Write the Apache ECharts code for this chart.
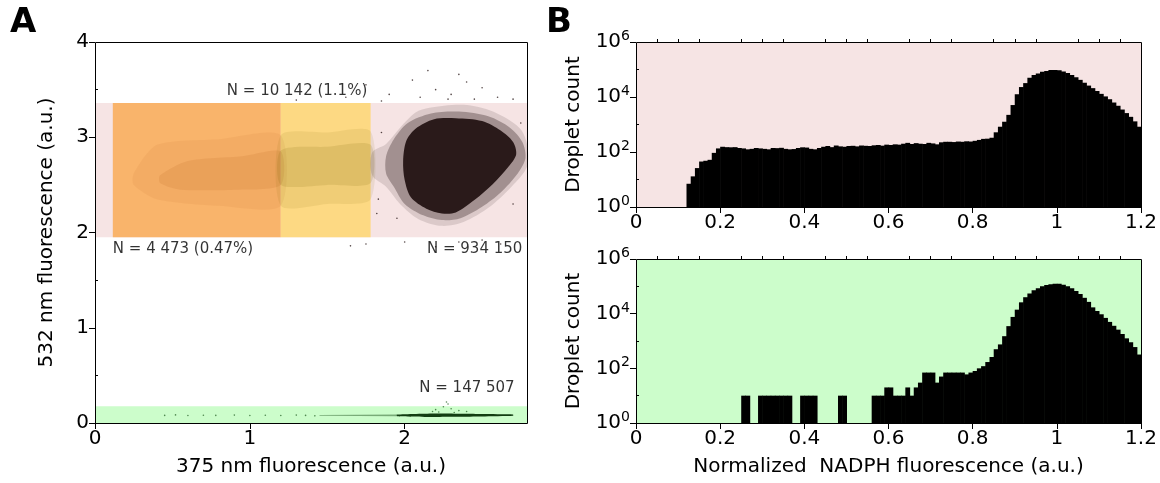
<!DOCTYPE html>
<html><head><meta charset="utf-8">
<script src="https://cdn.jsdelivr.net/npm/echarts@6/dist/echarts.min.js"></script>
<style>html,body{margin:0;padding:0;background:#fff}#c{width:1160px;height:483px}</style>
</head><body><div id="c"></div>
<script>
// ---------- DATA ----------
// Panel A: gates (a.u.)
const redGateY = [1.95, 3.36];
const greenGateY = [0, 0.175];
const orangeGateX = [0.115, 1.2];
const yellowGateX = [1.2, 1.78];
const xMaxA = 2.79;
// Panel A: tick values
const xTicksA = [0, 1, 2];
const xMinorA = [0.2, 0.4, 0.6, 0.8, 1.2, 1.4, 1.6, 1.8, 2.2, 2.4, 2.6];
const yTicksA = [0, 1, 2, 3, 4];
const yMinorA = [0.5, 1.5, 2.5, 3.5];
// Panel A: point-cloud outlines [x, y]
const cloudCore = [[2.19,3.19],[2.33,3.20],[2.50,3.17],[2.62,3.07],[2.70,2.95],[2.72,2.82],[2.67,2.69],[2.57,2.51],[2.45,2.34],[2.33,2.21],[2.24,2.20],[2.14,2.25],[2.04,2.37],[2.00,2.55],[1.99,2.75],[2.01,2.96],[2.07,3.09]];
const cloudMid = [[2.17,3.25],[2.35,3.27],[2.54,3.22],[2.68,3.10],[2.76,2.95],[2.78,2.78],[2.73,2.62],[2.62,2.42],[2.50,2.27],[2.36,2.15],[2.24,2.13],[2.12,2.18],[2.00,2.30],[1.93,2.48],[1.88,2.62],[1.88,2.80],[1.93,2.98],[2.02,3.15]];
const cloudHalo = [[2.16,3.31],[2.38,3.34],[2.57,3.27],[2.74,3.10],[2.79,2.93],[2.79,2.69],[2.69,2.48],[2.55,2.27],[2.38,2.11],[2.24,2.07],[2.09,2.14],[1.97,2.30],[1.88,2.48],[1.79,2.60],[1.79,2.84],[1.88,2.93],[1.97,3.10],[2.07,3.26]];
const orangeOuter = [[0.25,2.62],[0.40,2.92],[0.80,2.98],[1.20,3.02],[1.20,2.28],[0.80,2.28],[0.40,2.35],[0.25,2.50]];
const orangeInner = [[0.42,2.60],[0.60,2.75],[0.95,2.80],[1.20,2.85],[1.20,2.50],[0.90,2.45],[0.55,2.45],[0.42,2.52]];
const yellowOuter = [[1.20,3.02],[1.50,3.05],[1.78,3.06],[1.78,2.35],[1.50,2.30],[1.20,2.28]];
const yellowInner = [[1.20,2.86],[1.50,2.90],[1.78,2.92],[1.78,2.52],[1.50,2.50],[1.20,2.50]];
const greenCore = [[1.95,0.072],[2.20,0.064],[2.50,0.068],[2.70,0.075],[2.70,0.090],[2.50,0.095],[2.20,0.100],[1.95,0.088]];
const greenTail = [[1.45,0.076],[1.95,0.072],[1.95,0.088],[1.45,0.084]];
const redOutliers = [[1.62,3.42],[1.75,3.55],[1.90,3.45],[2.05,3.60],[2.10,3.42],[2.20,3.50],[2.30,3.45],[2.35,3.66],[2.45,3.40],[2.50,3.52],[2.60,3.42],[1.30,3.39],[2.15,3.70],[2.40,3.58],[2.00,1.90],[2.20,1.85],[1.75,1.88],[2.35,1.90],[2.50,1.92],[1.65,1.86],[2.62,1.88],[1.85,3.38],[2.28,3.40],[2.70,3.40],[1.83,2.35],[1.85,3.05],[1.82,2.20],[2.70,2.30],[2.75,3.15],[1.95,2.15]];
const greenDots = [[0.45,0.080],[0.52,0.085],[0.60,0.078],[0.70,0.082],[0.78,0.080],[0.90,0.083],[1.00,0.079],[1.10,0.081],[1.20,0.078],[1.30,0.083],[1.36,0.080],[1.42,0.075],[2.20,0.140],[2.25,0.170],[2.28,0.200],[2.30,0.150],[2.35,0.130],[2.18,0.120],[2.40,0.120],[2.27,0.220],[2.32,0.110],[2.22,0.115]];
const labelsA = [
  {name: 'N = 10 142 (1.1%)', pos: [1.305, 3.48], align: 'center'},
  {name: 'N = 4 473 (0.47%)', pos: [0.115, 1.83], align: 'left'},
  {name: 'N = 934 150', pos: [2.76, 1.83], align: 'right'},
  {name: 'N = 147 507', pos: [2.71, 0.37], align: 'right'}
];
// Panel B: histograms, bin width 0.01 from 0 to 1.2 (droplet counts)
const binWidth = 0.01;
const countsRed = [0,0,0,0,0,0,0,0,0,0,0,0,
  7,13,26,45,48,52,93,135,
  155,150,148,150,140,135,125,130,140,135,
  130,125,140,138,142,130,125,128,140,148,
  145,130,125,140,155,165,150,172,160,155,
  165,168,160,172,168,165,175,180,170,185,
  180,190,185,200,215,195,210,200,195,215,
  205,190,225,235,235,230,240,235,245,240,
  255,275,300,305,330,520,830,1260,2240,5100,
  12600,23000,32000,50000,63000,72000,83000,89000,95000,95000,
  93000,85000,74000,63000,52000,42000,33000,26000,21000,16500,
  13000,10500,8300,6300,4800,3500,2600,1900,1300,830];
const countsGreen = [0,0,0,0,0,0,0,0,0,0,0,0,0,0,0,0,0,0,0,0,0,0,0,0,0,
  10,10,0,0,10,
  10,10,10,10,10,10,10,0,0,10,
  10,10,10,0,0,0,0,0,10,10,
  0,0,0,0,0,0,10,10,10,20,
  20,10,10,10,20,10,20,30,70,70,
  70,30,50,70,70,70,70,70,60,70,
  80,100,120,170,260,500,750,1500,3500,7600,
  14000,26000,40000,55000,72000,85000,100000,112000,120000,125000,
  125000,115000,100000,85000,68000,52000,38000,27000,17000,12500,
  9500,7000,5000,3600,2600,1800,1250,900,600,320];
const xTicksB = [0, 0.2, 0.4, 0.6, 0.8, 1, 1.2];
const xMinorB = [0.05,0.1,0.15,0.25,0.3,0.35,0.45,0.5,0.55,0.65,0.7,0.75,0.85,0.9,0.95,1.05,1.1,1.15];
const yTicksB = [1, 100, 10000, 1000000];
const yMinorB = [10, 1000, 100000];

// ---------- LAYOUT / STYLE ----------
const FONT = 'DejaVu Sans';
const GA = {left: 95, top: 42, width: 432, height: 381};
const GB1 = {left: 636, top: 42, width: 505, height: 165};
const GB2 = {left: 636, top: 259, width: 505, height: 164};
const C = {pink: '#f6e4e4', green: '#ccfdcb', orange: '#f9b46b', yellow: '#fdd983', dark: '#2a1a1a'};

function histData(counts) {
  const out = [];
  counts.forEach((c, i) => { if (c > 0) out.push([i * binWidth, (i + 1) * binWidth, c]); });
  return out;
}
function rectItem(fill) {
  return function (params, api) {
    const p0 = api.coord([api.value(0), api.value(3)]);
    const p1 = api.coord([api.value(1), api.value(2)]);
    return {type: 'rect', shape: {x: p0[0], y: p1[1] < p0[1] ? p1[1] : p0[1], width: p1[0] - p0[0], height: Math.abs(p0[1] - p1[1])}, style: {fill: fill}};
  };
}
function polySeries(points, fill, smooth) {
  return {type: 'custom', xAxisIndex: 0, yAxisIndex: 0, data: [0], silent: true,
    renderItem: (params, api) => ({type: 'polygon', shape: {points: points.map(p => api.coord(p)), smooth: smooth}, style: {fill: fill}})};
}
function histSeries(counts, xi, yi) {
  return {type: 'custom', xAxisIndex: xi, yAxisIndex: yi, data: histData(counts), silent: true,
    encode: {x: [0, 1], y: 2},
    renderItem: (params, api) => {
      const p0 = api.coord([api.value(0), api.value(2)]);
      const p1 = api.coord([api.value(1), 1]);
      return {type: 'rect', shape: {x: p0[0], y: p0[1], width: p1[0] - p0[0] + 0.6, height: p1[1] - p0[1]}, style: {fill: '#000'}};
    }};
}
const supFmt = v => '10{s|' + Math.round(Math.log10(v)) + '}';
const richSup = {s: {fontSize: 14, fontFamily: FONT, color: '#000', padding: [0, 0, 11, 0]}};
function xAxisMain(gi, min, max, ticks, name, fmt) {
  return {type: 'value', gridIndex: gi, min: min, max: max, name: name, nameLocation: 'middle', nameGap: 34,
    nameTextStyle: {fontSize: 20, fontFamily: FONT, color: '#000'},
    axisLine: {show: false}, splitLine: {show: false},
    axisTick: {show: true, customValues: ticks, length: 6, lineStyle: {color: '#000', width: 1}},
    axisLabel: {show: true, customValues: ticks, fontSize: 20, fontFamily: FONT, color: '#000', margin: 6, formatter: fmt}};
}
function axisMinor(kind, gi, extra) {
  return Object.assign({gridIndex: gi, axisLine: {show: false}, splitLine: {show: false}, axisLabel: {show: false}}, extra, kind);
}
const option = {
  animation: false,
  textStyle: {fontFamily: FONT},
  grid: [
    Object.assign({show: false}, GA),
    Object.assign({show: true, backgroundColor: C.pink, borderWidth: 0}, GB1),
    Object.assign({show: true, backgroundColor: C.green, borderWidth: 0}, GB2)
  ],
  xAxis: [
    xAxisMain(0, 0, xMaxA, xTicksA, '375 nm fluorescence (a.u.)', v => String(v)),
    axisMinor({type: 'value', min: 0, max: xMaxA}, 0, {axisTick: {customValues: xMinorA, length: 3, lineStyle: {color: '#000'}}}),
    xAxisMain(1, 0, 1.2, xTicksB, '', v => String(v)),
    axisMinor({type: 'value', min: 0, max: 1.2}, 1, {axisTick: {customValues: xMinorB, length: 3, lineStyle: {color: '#000'}}}),
    xAxisMain(2, 0, 1.2, xTicksB, 'Normalized  NADPH fluorescence (a.u.)', v => String(v)),
    axisMinor({type: 'value', min: 0, max: 1.2}, 2, {axisTick: {customValues: xMinorB, length: 3, lineStyle: {color: '#000'}}})
  ],
  yAxis: [
    {type: 'value', gridIndex: 0, min: 0, max: 4, name: '532 nm fluorescence (a.u.)', nameLocation: 'middle', nameGap: 38,
      nameTextStyle: {fontSize: 20, fontFamily: FONT, color: '#000'},
      axisLine: {show: false}, splitLine: {show: false},
      axisTick: {show: true, customValues: yTicksA, length: 6, lineStyle: {color: '#000'}},
      axisLabel: {customValues: yTicksA, fontSize: 20, fontFamily: FONT, color: '#000', margin: 6}},
    axisMinor({type: 'value', min: 0, max: 4}, 0, {axisTick: {customValues: yMinorA, length: 3, lineStyle: {color: '#000'}}}),
    {type: 'log', logBase: 10, gridIndex: 1, min: 1, max: 1000000, name: 'Droplet count', nameLocation: 'middle', nameGap: 52,
      nameTextStyle: {fontSize: 20, fontFamily: FONT, color: '#000'},
      axisLine: {show: false}, splitLine: {show: false},
      axisTick: {show: true, customValues: yTicksB, length: 6, lineStyle: {color: '#000'}},
      axisLabel: {customValues: yTicksB, fontSize: 20, fontFamily: FONT, color: '#000', margin: 6, formatter: supFmt, rich: richSup}},
    axisMinor({type: 'log', logBase: 10, min: 1, max: 1000000}, 1, {axisTick: {customValues: yMinorB, length: 3, lineStyle: {color: '#000'}}}),
    {type: 'log', logBase: 10, gridIndex: 2, min: 1, max: 1000000, name: 'Droplet count', nameLocation: 'middle', nameGap: 52,
      nameTextStyle: {fontSize: 20, fontFamily: FONT, color: '#000'},
      axisLine: {show: false}, splitLine: {show: false},
      axisTick: {show: true, customValues: yTicksB, length: 6, lineStyle: {color: '#000'}},
      axisLabel: {customValues: yTicksB, fontSize: 20, fontFamily: FONT, color: '#000', margin: 6, formatter: supFmt, rich: richSup}},
    axisMinor({type: 'log', logBase: 10, min: 1, max: 1000000}, 2, {axisTick: {customValues: yMinorB, length: 3, lineStyle: {color: '#000'}}})
  ],
  series: [
    {type: 'custom', xAxisIndex: 0, yAxisIndex: 0, silent: true, renderItem: rectItem(C.pink),
      data: [[0, xMaxA, redGateY[0], redGateY[1]]]},
    {type: 'custom', xAxisIndex: 0, yAxisIndex: 0, silent: true, renderItem: rectItem(C.green),
      data: [[0, xMaxA, greenGateY[0], greenGateY[1]]]},
    {type: 'custom', xAxisIndex: 0, yAxisIndex: 0, silent: true, renderItem: rectItem(C.orange),
      data: [[orangeGateX[0], orangeGateX[1], redGateY[0], redGateY[1]]]},
    {type: 'custom', xAxisIndex: 0, yAxisIndex: 0, silent: true, renderItem: rectItem(C.yellow),
      data: [[yellowGateX[0], yellowGateX[1], redGateY[0], redGateY[1]]]},
    polySeries(orangeOuter, 'rgba(180,95,25,0.08)', 0.25),
    polySeries(orangeInner, 'rgba(170,85,20,0.12)', 0.25),
    polySeries(yellowOuter, 'rgba(130,110,10,0.10)', 0.25),
    polySeries(yellowInner, 'rgba(120,100,10,0.14)', 0.25),
    polySeries(cloudHalo, 'rgba(42,26,26,0.13)', 0.3),
    polySeries(cloudMid, 'rgba(42,26,26,0.32)', 0.3),
    polySeries(cloudCore, C.dark, 0.3),
    polySeries(greenTail, 'rgba(20,70,20,0.45)', 0),
    polySeries(greenCore, '#123d12', 0.2),
    {type: 'scatter', xAxisIndex: 0, yAxisIndex: 0, silent: true, symbolSize: 1.6, itemStyle: {color: C.dark}, data: redOutliers},
    {type: 'scatter', xAxisIndex: 0, yAxisIndex: 0, silent: true, symbolSize: 1.6, itemStyle: {color: '#2f6a2f'}, data: greenDots},
    {type: 'scatter', xAxisIndex: 0, yAxisIndex: 0, silent: true, symbolSize: 0,
      data: labelsA.map(l => ({name: l.name, value: l.pos, label: {align: l.align}})),
      label: {show: true, position: 'inside', formatter: p => p.name, fontSize: 15, fontFamily: FONT, color: '#000', verticalAlign: 'middle'}},
    histSeries(countsRed, 2, 2),
    histSeries(countsGreen, 4, 4)
  ],
  graphic: [
    {type: 'rect', z: 100, shape: {x: GA.left + 0.5, y: GA.top + 0.5, width: GA.width, height: GA.height}, style: {fill: 'none', stroke: '#000', lineWidth: 1}},
    {type: 'rect', z: 100, shape: {x: GB1.left + 0.5, y: GB1.top + 0.5, width: GB1.width, height: GB1.height}, style: {fill: 'none', stroke: '#000', lineWidth: 1}},
    {type: 'rect', z: 100, shape: {x: GB2.left + 0.5, y: GB2.top + 0.5, width: GB2.width, height: GB2.height}, style: {fill: 'none', stroke: '#000', lineWidth: 1}},
    {type: 'text', left: 10, top: 6, style: {text: 'A', font: 'bold 34px "DejaVu Sans"', fill: '#000'}},
    {type: 'text', left: 546, top: 6, style: {text: 'B', font: 'bold 34px "DejaVu Sans"', fill: '#000'}}
  ]
};
const chart = echarts.init(document.getElementById('c'));
chart.setOption(option);
</script>
</body></html>
